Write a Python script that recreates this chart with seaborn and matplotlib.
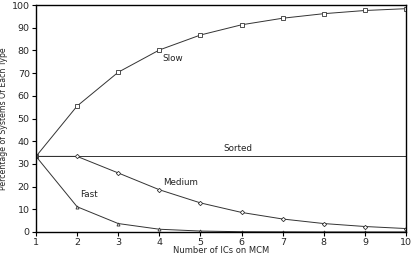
import matplotlib
matplotlib.use("Agg")
import matplotlib.pyplot as plt
import seaborn as sns
import pandas as pd

n_ics = [1, 2, 3, 4, 5, 6, 7, 8, 9, 10]
slow = [33.3, 55.5, 70.4, 80.2, 86.8, 91.3, 94.2, 96.2, 97.6, 98.4]
sorted_ = [33.3] * 10
medium = [33.3, 33.3, 26.0, 18.6, 12.8, 8.6, 5.7, 3.7, 2.4, 1.5]
fast = [33.3, 11.1, 3.7, 1.2, 0.4, 0.1, 0.05, 0.0, 0.0, 0.0]

labels = {"Slow": (4.07, 76.5), "Sorted": (5.55, 36.8), "Medium": (4.08, 21.6), "Fast": (2.07, 16.6)}

sns.set_theme(style="ticks")
plt.rcParams['font.family'] = ['DejaVu Sans']

df = pd.DataFrame({"x": n_ics * 4,
                   "y": slow + sorted_ + medium + fast,
                   "s": ["Slow"] * 10 + ["Sorted"] * 10 + ["Medium"] * 10 + ["Fast"] * 10})

fig = plt.figure(figsize=(4.11, 2.66), dpi=100)
ax = fig.add_axes([0.0876, 0.128, 0.9004, 0.853])

markers = {"Slow": "s", "Sorted": "", "Medium": "D", "Fast": "^"}
for name in ["Slow", "Sorted", "Medium", "Fast"]:
    sub = df[df.s == name]
    sns.lineplot(data=sub, x="x", y="y", ax=ax, color="#333333", lw=0.7,
                 marker=markers[name] if markers[name] else None,
                 markersize=2.2, markerfacecolor="white", markeredgecolor="#333333",
                 markeredgewidth=0.6, legend=False)

for k, (tx, ty) in labels.items():
    ax.text(tx, ty, k, fontsize=6.3, va="center", ha="left", color="#222222")

ax.set_xlim(1, 10)
ax.set_ylim(0, 100)
ax.set_xticks(range(1, 11))
ax.set_yticks(range(0, 101, 10))
ax.tick_params(labelsize=6.8, length=3, width=0.8, pad=1.5, color="black")
for sp in ax.spines.values():
    sp.set_visible(True)
    sp.set_color("black")
    sp.set_linewidth(1.0)
ax.set_xlabel("Number of ICs on MCM", fontsize=6, labelpad=-1)
ax.set_ylabel("Percentage of Systems Of Each Type", fontsize=5.6, labelpad=3)
ax.grid(False)

fig.savefig("out.png", dpi=100)
